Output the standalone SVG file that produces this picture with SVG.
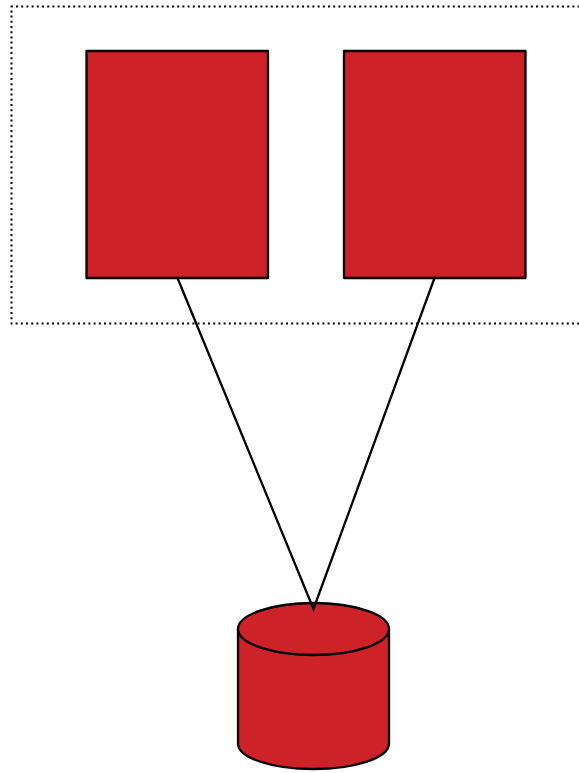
<svg xmlns="http://www.w3.org/2000/svg" width="579" height="773" viewBox="0 0 579 773">
<style>
.n{fill:#cd2228;stroke:#000;stroke-width:2.3;stroke-linejoin:round}
.c{fill:none;stroke:#000;stroke-width:2.3;stroke-linecap:round}
</style>
<rect width="579" height="773" fill="#fff"/>
<g id="boundary"><path d="M590 6.500H11.500V323.500H590" fill="none" stroke="#000" stroke-width="2" stroke-dasharray="2 3.200"/></g>
<g id="node-left"><rect class="n" x="86.500" y="51" width="181.500" height="227"/></g>
<g id="node-right"><rect class="n" x="344" y="51" width="181.500" height="227"/></g>
<g id="node-db">
<path class="n" d="M238 629V743.500C238 758 272 769 313.500 769S389 758 389 743.500V629Z"/>
<ellipse class="n" cx="313.500" cy="629" rx="75.500" ry="26"/>
</g>
<g id="connectors">
<path class="c" d="M177.500 278L313.500 609L434.500 278"/>
</g>
</svg>
